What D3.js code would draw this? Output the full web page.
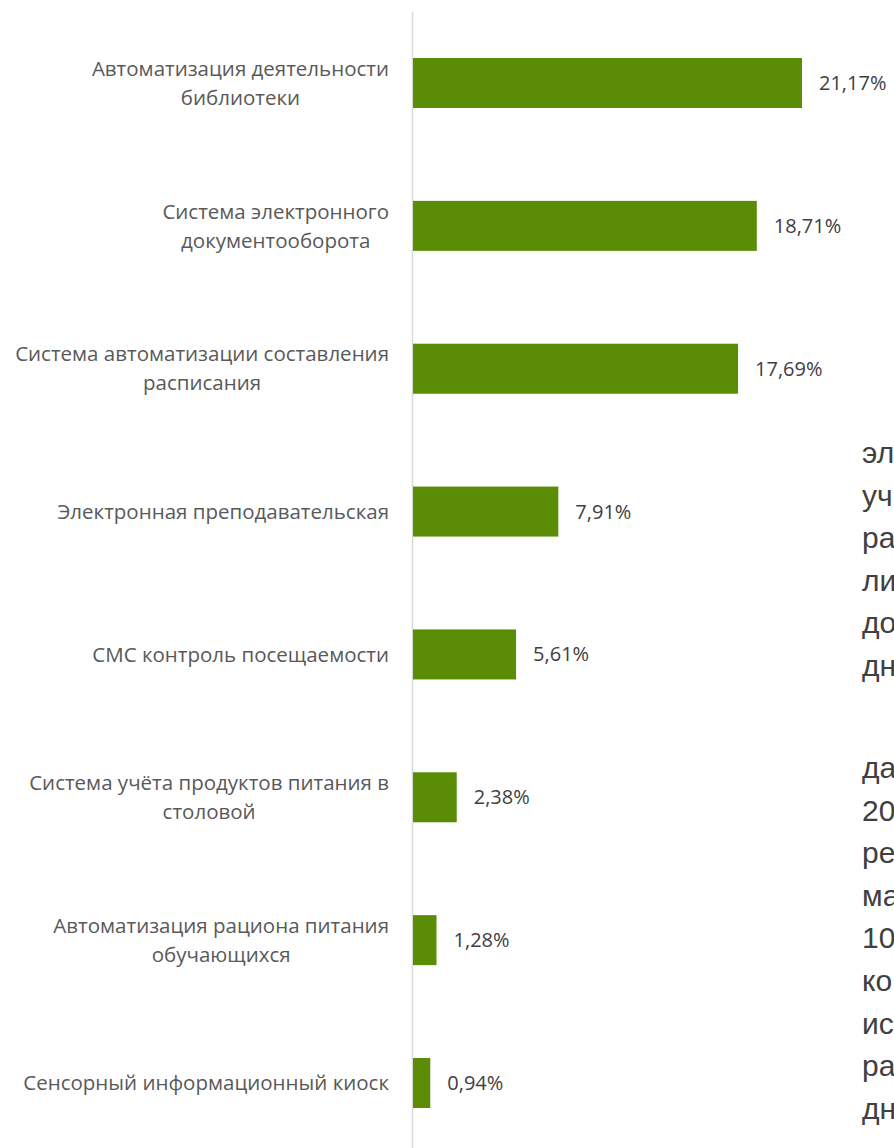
<!DOCTYPE html>
<html><head><meta charset="utf-8">
<script src="https://cdn.jsdelivr.net/npm/d3@7"></script>
<style>html,body{margin:0;padding:0;background:#fff;overflow:hidden}</style>
</head><body>
<svg id="c" width="894" height="1148"></svg>
<script>
const categories = [
  "Автоматизация деятельности\nбиблиотеки",
  "Система электронного\nдокументооборота",
  "Система автоматизации составления\nрасписания",
  "Электронная преподавательская",
  "СМС контроль посещаемости",
  "Система учёта продуктов питания в\nстоловой",
  "Автоматизация рациона питания\nобучающихся",
  "Сенсорный информационный киоск"
];
const values = [21.17, 18.71, 17.69, 7.91, 5.61, 2.38, 1.28, 0.94];
const valueLabels = ["21,17%", "18,71%", "17,69%", "7,91%", "5,61%", "2,38%", "1,28%", "0,94%"];
const sideTextBlock1 = ["эл", "уч", "ра", "ли", "до", "дн"];
const sideTextBlock2 = ["да", "20", "ре", "ма", "10", "ко", "ис", "ра", "дн"];

const svg = d3.select("#c");
const x = d3.scaleLinear().domain([0, 25]).range([413, 413 + 25 * 18.375]);
const y = d3.scaleBand().domain(categories).range([11.57, 1154.43]).paddingInner(0.65).paddingOuter(0.325);

// axis line
svg.append("line").attr("x1", 412.5).attr("x2", 412.5).attr("y1", 12).attr("y2", 1148)
  .attr("stroke", "#d9d9d9").attr("stroke-width", 1.5);

// bars
svg.selectAll("rect.bar").data(values).join("rect").attr("class", "bar")
  .attr("x", x(0)).attr("y", (d, i) => y(categories[i]))
  .attr("width", d => x(d) - x(0)).attr("height", y.bandwidth())
  .attr("fill", "#5B8C06");

// value labels
svg.selectAll("text.val").data(values).join("text").attr("class", "val")
  .attr("x", d => x(d) + 17).attr("y", (d, i) => y(categories[i]) + y.bandwidth() / 2)
  .attr("dy", "0.35em").attr("font-family", "Open Sans").attr("font-size", 20)
  .attr("fill", "#404040").text((d, i) => valueLabels[i]);

// category labels (centered multi-line, right-aligned block)
const lh = 29;
const cl = svg.selectAll("text.cat").data(categories).join("text").attr("class", "cat")
  .attr("text-anchor", "end").attr("font-family", "Open Sans").attr("font-size", 20.5)
  .attr("fill", "#595959")
  .attr("transform", d => `translate(389,${y(d) + y.bandwidth() / 2})`);
cl.each(function (d) {
  const lines = d.split("\n");
  const t = d3.select(this);
  lines.forEach((ln, j) => {
    t.append("tspan").attr("x", 0)
      .attr("y", (j - (lines.length - 1) / 2) * lh).attr("dy", "0.35em").text(ln);
  });
});
cl.each(function () {
  const tsp = d3.select(this).selectAll("tspan").nodes();
  if (tsp.length > 1) {
    const w0 = d3.max(tsp, n => n.getComputedTextLength());
    tsp.forEach(n => {
      const w = n.getComputedTextLength();
      d3.select(n).attr("x", -(w0 - w) / 2);
    });
  }
});

// side text fragments (partially visible paragraph on the right)
const side = svg.append("g").attr("font-family", "Liberation Sans").attr("font-size", 30).attr("fill", "#404040");
side.selectAll("text.s1").data(sideTextBlock1).join("text").attr("class", "s1")
  .attr("x", 862).attr("y", (d, i) => 463 + i * 42.6).text(d => d);
side.selectAll("text.s2").data(sideTextBlock2).join("text").attr("class", "s2")
  .attr("x", 862).attr("y", (d, i) => 778 + i * 42.6).text(d => d);
</script>
</body></html>
